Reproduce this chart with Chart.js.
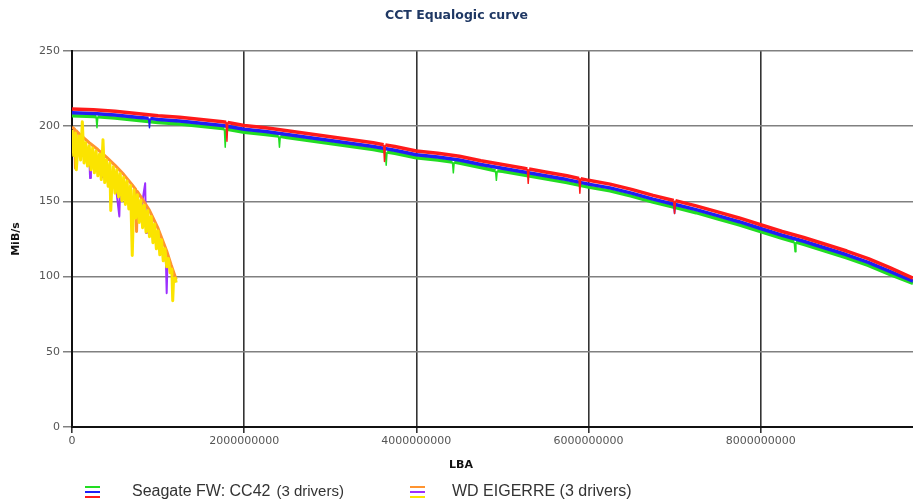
<!DOCTYPE html>
<html>
<head>
<meta charset="utf-8">
<title>CCT Equalogic curve</title>
<script src="https://cdn.jsdelivr.net/npm/chart.js@4.4.1/dist/chart.umd.min.js"></script>
<style>
  body { margin: 0; background: #fff; }
  #wrap { position: relative; width: 913px; height: 504px; }
  #lbaTitle { position: absolute; left: 461px; top: 458px; transform: translateX(-50%);
              font: bold 11px "DejaVu Sans", sans-serif; color: #111; }
  .legend-item { position: absolute; top: 481px; height: 20px;
                 font: 16px "Liberation Sans", Arial, sans-serif; color: #333; line-height: 20px; }
  .legend-item .icon { position: absolute; top: 5px; width: 15px; height: 14px; }
  .legend-item .icon span { position: absolute; left: 0; width: 15px; height: 2px; }
  .legend-item .text { position: absolute; white-space: nowrap; }
  .legend-item .note { font-size: 15px; margin-left: 6px; }
</style>
</head>
<body>
<div id="wrap">
  <canvas id="curveChart" width="913" height="504"></canvas>
  <div id="lbaTitle">LBA</div>
</div>
<script>
// LBA positions are in billions of sectors, speeds in MiB/s
const sgGreenLba = [0, 0.25, 0.28, 0.29, 0.3, 0.5, 0.75, 1.0, 1.25, 1.5, 1.75, 1.77, 1.78, 1.79, 2.0, 2.25, 2.4, 2.41, 2.42, 2.5, 2.75, 3.0, 3.25, 3.5, 3.64, 3.65, 3.66, 3.75, 4.0, 4.25, 4.42, 4.43, 4.44, 4.5, 4.75, 4.92, 4.93, 4.94, 5.0, 5.25, 5.5, 5.75, 6.0, 6.25, 6.5, 6.75, 7.0, 7.25, 7.5, 7.75, 8.0, 8.25, 8.39, 8.4, 8.41, 8.5, 8.75, 9.0, 9.25, 9.5, 9.77];
const sgGreenMbs = [207, 206.5, 206.3, 199, 206.2, 205.5, 204, 202.5, 201.5, 200, 198.5, 198.3, 186, 198.2, 196, 194.5, 193.4, 186, 193.3, 192.5, 190.5, 188.5, 186.5, 184.5, 183, 174, 182.9, 182, 179, 177.5, 176.2, 169, 176.1, 175.5, 172.5, 170.4, 164, 170.3, 170, 167.5, 165, 162.5, 159.5, 157, 153.5, 149.5, 146, 142.5, 138.5, 134.5, 130, 125.5, 123.2, 116.5, 123, 121.5, 117, 112.5, 107.5, 101.5, 95.5];

const sgBlueLba = [0, 0.25, 0.5, 0.75, 0.89, 0.9, 0.91, 1.0, 1.25, 1.5, 1.75, 2.0, 2.25, 2.5, 2.75, 3.0, 3.25, 3.5, 3.75, 4.0, 4.25, 4.5, 4.75, 5.0, 5.25, 5.5, 5.75, 6.0, 6.25, 6.5, 6.75, 6.99, 7.0, 7.01, 7.25, 7.5, 7.75, 8.0, 8.25, 8.5, 8.75, 9.0, 9.25, 9.5, 9.77];
const sgBlueMbs = [209, 208.5, 207.5, 206, 205.3, 199, 205.2, 204.5, 203.5, 202, 200.5, 198, 196.5, 194.5, 192.5, 190.5, 188.5, 186.5, 184, 181, 179.5, 177.5, 174.5, 172, 169.5, 167, 164.5, 161.5, 159, 155.5, 151.5, 148.1, 142, 147.9, 144.5, 140.5, 136.5, 132, 127.5, 123.5, 119, 114.5, 109.5, 103.5, 97];

const sgRedLba = [0, 0.25, 0.5, 0.75, 1.0, 1.25, 1.5, 1.75, 1.79, 1.8, 1.81, 2.0, 2.25, 2.5, 2.75, 3.0, 3.25, 3.5, 3.62, 3.63, 3.64, 3.75, 4.0, 4.25, 4.5, 4.75, 5.0, 5.25, 5.29, 5.3, 5.31, 5.5, 5.75, 5.89, 5.9, 5.91, 6.0, 6.25, 6.5, 6.75, 6.99, 7.0, 7.01, 7.25, 7.5, 7.75, 8.0, 8.25, 8.5, 8.75, 9.0, 9.25, 9.5, 9.77];
const sgRedMbs = [211.5, 211, 210, 208.5, 207, 206, 204.5, 203, 202.6, 190, 202.5, 200.5, 199, 197, 195, 193, 191, 189, 187.7, 176.5, 187.6, 186.5, 183.5, 182, 180, 177, 174.5, 172, 171.6, 162, 171.5, 169.5, 167, 165.2, 155.5, 165.1, 164, 161.5, 158, 154, 150.6, 142, 150.5, 147, 143, 139, 134.5, 130, 126, 121.5, 117, 112, 106, 99];

const wdOrangeLba = [0, 0.03, 0.04, 0.05, 0.1, 0.15, 0.2, 0.3, 0.4, 0.5, 0.6, 0.7, 0.74, 0.75, 0.76, 0.8, 0.9, 1.0, 1.1, 1.15, 1.21];
const wdOrangeMbs = [199.5, 198, 172, 197, 194, 191.5, 189, 184.5, 179.5, 174, 168, 161, 158, 130, 156.5, 153, 144, 132, 117, 108, 98];

const wdPurpleLba = [0, 0.1, 0.2, 0.21, 0.22, 0.3, 0.35, 0.4, 0.5, 0.55, 0.56, 0.6, 0.7, 0.8, 0.85, 0.86, 0.87, 0.9, 1.0, 1.09, 1.1, 1.11, 1.21];
const wdPurpleMbs = [190, 185.5, 180.5, 165.5, 180, 175.5, 166, 170, 164.5, 140, 161, 158.5, 151.5, 143.5, 162, 129, 138.5, 135, 124, 112.5, 89, 111, 96.5];

const wdYellowLba = [0, 0.02, 0.04, 0.05, 0.06, 0.08, 0.1, 0.12, 0.14, 0.16, 0.18, 0.2, 0.22, 0.24, 0.26, 0.28, 0.3, 0.32, 0.34, 0.36, 0.38, 0.4, 0.42, 0.44, 0.45, 0.46, 0.48, 0.5, 0.52, 0.54, 0.56, 0.58, 0.6, 0.62, 0.64, 0.66, 0.68, 0.7, 0.72, 0.74, 0.76, 0.78, 0.8, 0.82, 0.84, 0.86, 0.88, 0.9, 0.92, 0.94, 0.96, 0.98, 1.0, 1.02, 1.04, 1.06, 1.08, 1.1, 1.12, 1.14, 1.16, 1.17, 1.18, 1.2, 1.21];
const wdYellowMbs = [197.5, 180.5, 195.5, 171, 179, 193.5, 177.5, 203, 175.5, 189, 173.5, 187, 171, 185.5, 169, 183.5, 167, 181.5, 164.5, 191, 162.5, 177.5, 160, 175.5, 144, 157.5, 173, 155.5, 171, 153, 168.5, 150.5, 166, 148, 163.5, 145, 160.5, 114, 157.5, 139, 154.5, 136, 151, 132.5, 147.5, 129.5, 144, 126.5, 140, 122.5, 135, 118.5, 130.5, 114.5, 124.5, 110.5, 118.5, 106.5, 112, 102.5, 105, 84, 98.5, 99, 96];

const lbaMax = 9.77;                 // billions
const xTicks = [0, 2, 4, 6, 8];      // billions
const yTicks = [0, 50, 100, 150, 200, 250];

const GREEN = "#22dd22", BLUE = "#1f1ff5", RED = "#ff1a1a";
const ORANGE = "#ff9430", PURPLE = "#9b30ff", YELLOW = "#fbe400";

const legendItems = [
    { name: "Seagate FW: CC42", note: "(3 drivers)", colors: [GREEN, BLUE, RED], iconX: 85, textX: 132 },
    { name: "WD EIGERRE (3 drivers)", note: "", colors: [ORANGE, PURPLE, YELLOW], iconX: 410, textX: 452 },
];

function toPoints(lba, mbs) {
    return lba.map((v, i) => ({ x: v * 1e9, y: mbs[i] }));
}

// narrow dips are drawn thinner than the running trace
const thinDips = {
    borderWidth: (c) =>
        Math.abs(c.p1.parsed.x - c.p0.parsed.x) < 0.02e9 ? 1.5 : undefined,
};

function series(label, lba, mbs, color, width, segment) {
    return {
        label: label,
        data: toPoints(lba, mbs),
        borderColor: color,
        backgroundColor: color,
        borderWidth: width,
        borderJoinStyle: "round",
        pointRadius: 0,
        tension: 0,
        fill: false,
        segment: segment || {},
    };
}

// first dataset is painted last (on top)
const datasets = [
    series("WD drive 3", wdYellowLba, wdYellowMbs, YELLOW, 3),
    series("WD drive 1", wdOrangeLba, wdOrangeMbs, ORANGE, 3),
    series("WD drive 2", wdPurpleLba, wdPurpleMbs, PURPLE, 2),
    series("Seagate drive 3", sgRedLba, sgRedMbs, RED, 3.5, thinDips),
    series("Seagate drive 2", sgBlueLba, sgBlueMbs, BLUE, 3.5, thinDips),
    series("Seagate drive 1", sgGreenLba, sgGreenMbs, GREEN, 3.5, thinDips),
];

const ctx = document.getElementById("curveChart").getContext("2d");
const chart = new Chart(ctx, {
    type: "line",
    data: { datasets: datasets },
    options: {
        responsive: false,
        animation: false,
        devicePixelRatio: 1,
        layout: { padding: { left: 0, right: 0, top: 0, bottom: 27 } },
        plugins: {
            legend: { display: false },
            tooltip: { enabled: false },
            title: {
                display: true,
                text: "CCT Equalogic curve",
                color: "#1f3864",
                font: { family: "DejaVu Sans", size: 12.5, weight: "bold" },
                padding: { top: 8, bottom: 28 },
            },
        },
        scales: {
            x: {
                type: "linear",
                min: 0,
                max: lbaMax * 1e9,
                afterBuildTicks: (scale) => {
                    scale.ticks = xTicks.map(v => ({ value: v * 1e9 }));
                },
                afterFit: (scale) => { scale.height = 50; },
                ticks: {
                    maxRotation: 0,
                    autoSkip: false,
                    color: "#555",
                    padding: 2,
                    font: { family: "DejaVu Sans", size: 11 },
                    callback: (value) => String(value),
                },
                grid: { color: "#333", lineWidth: 1.6, tickLength: 6 },
                border: { color: "#111", width: 2 },
            },
            y: {
                min: 0,
                max: 250,
                afterBuildTicks: (scale) => {
                    scale.ticks = yTicks.map(v => ({ value: v }));
                },
                afterFit: (scale) => { scale.width = 72; },
                ticks: {
                    color: "#555",
                    padding: 3,
                    font: { family: "DejaVu Sans", size: 11 },
                },
                grid: { color: "#808080", lineWidth: 1.5, tickLength: 9 },
                border: { color: "#111", width: 2 },
                title: {
                    display: true,
                    text: "MiB/s",
                    color: "#111",
                    font: { family: "DejaVu Sans", size: 11, weight: "bold" },
                    padding: { top: 10, bottom: 0 },
                },
            },
        },
    },
});

// legend with three stacked line swatches per drive family
const wrap = document.getElementById("wrap");
legendItems.forEach((item) => {
    const el = document.createElement("div");
    el.className = "legend-item";
    el.style.left = item.iconX + "px";
    const icon = document.createElement("div");
    icon.className = "icon";
    item.colors.forEach((c, i) => {
        const bar = document.createElement("span");
        bar.style.top = (i * 5) + "px";
        bar.style.background = c;
        icon.appendChild(bar);
    });
    el.appendChild(icon);
    const text = document.createElement("div");
    text.className = "text";
    text.style.left = (item.textX - item.iconX) + "px";
    text.textContent = item.name;
    if (item.note) {
        const note = document.createElement("span");
        note.className = "note";
        note.textContent = item.note;
        text.appendChild(note);
    }
    el.appendChild(text);
    wrap.appendChild(el);
});
</script>
</body>
</html>
